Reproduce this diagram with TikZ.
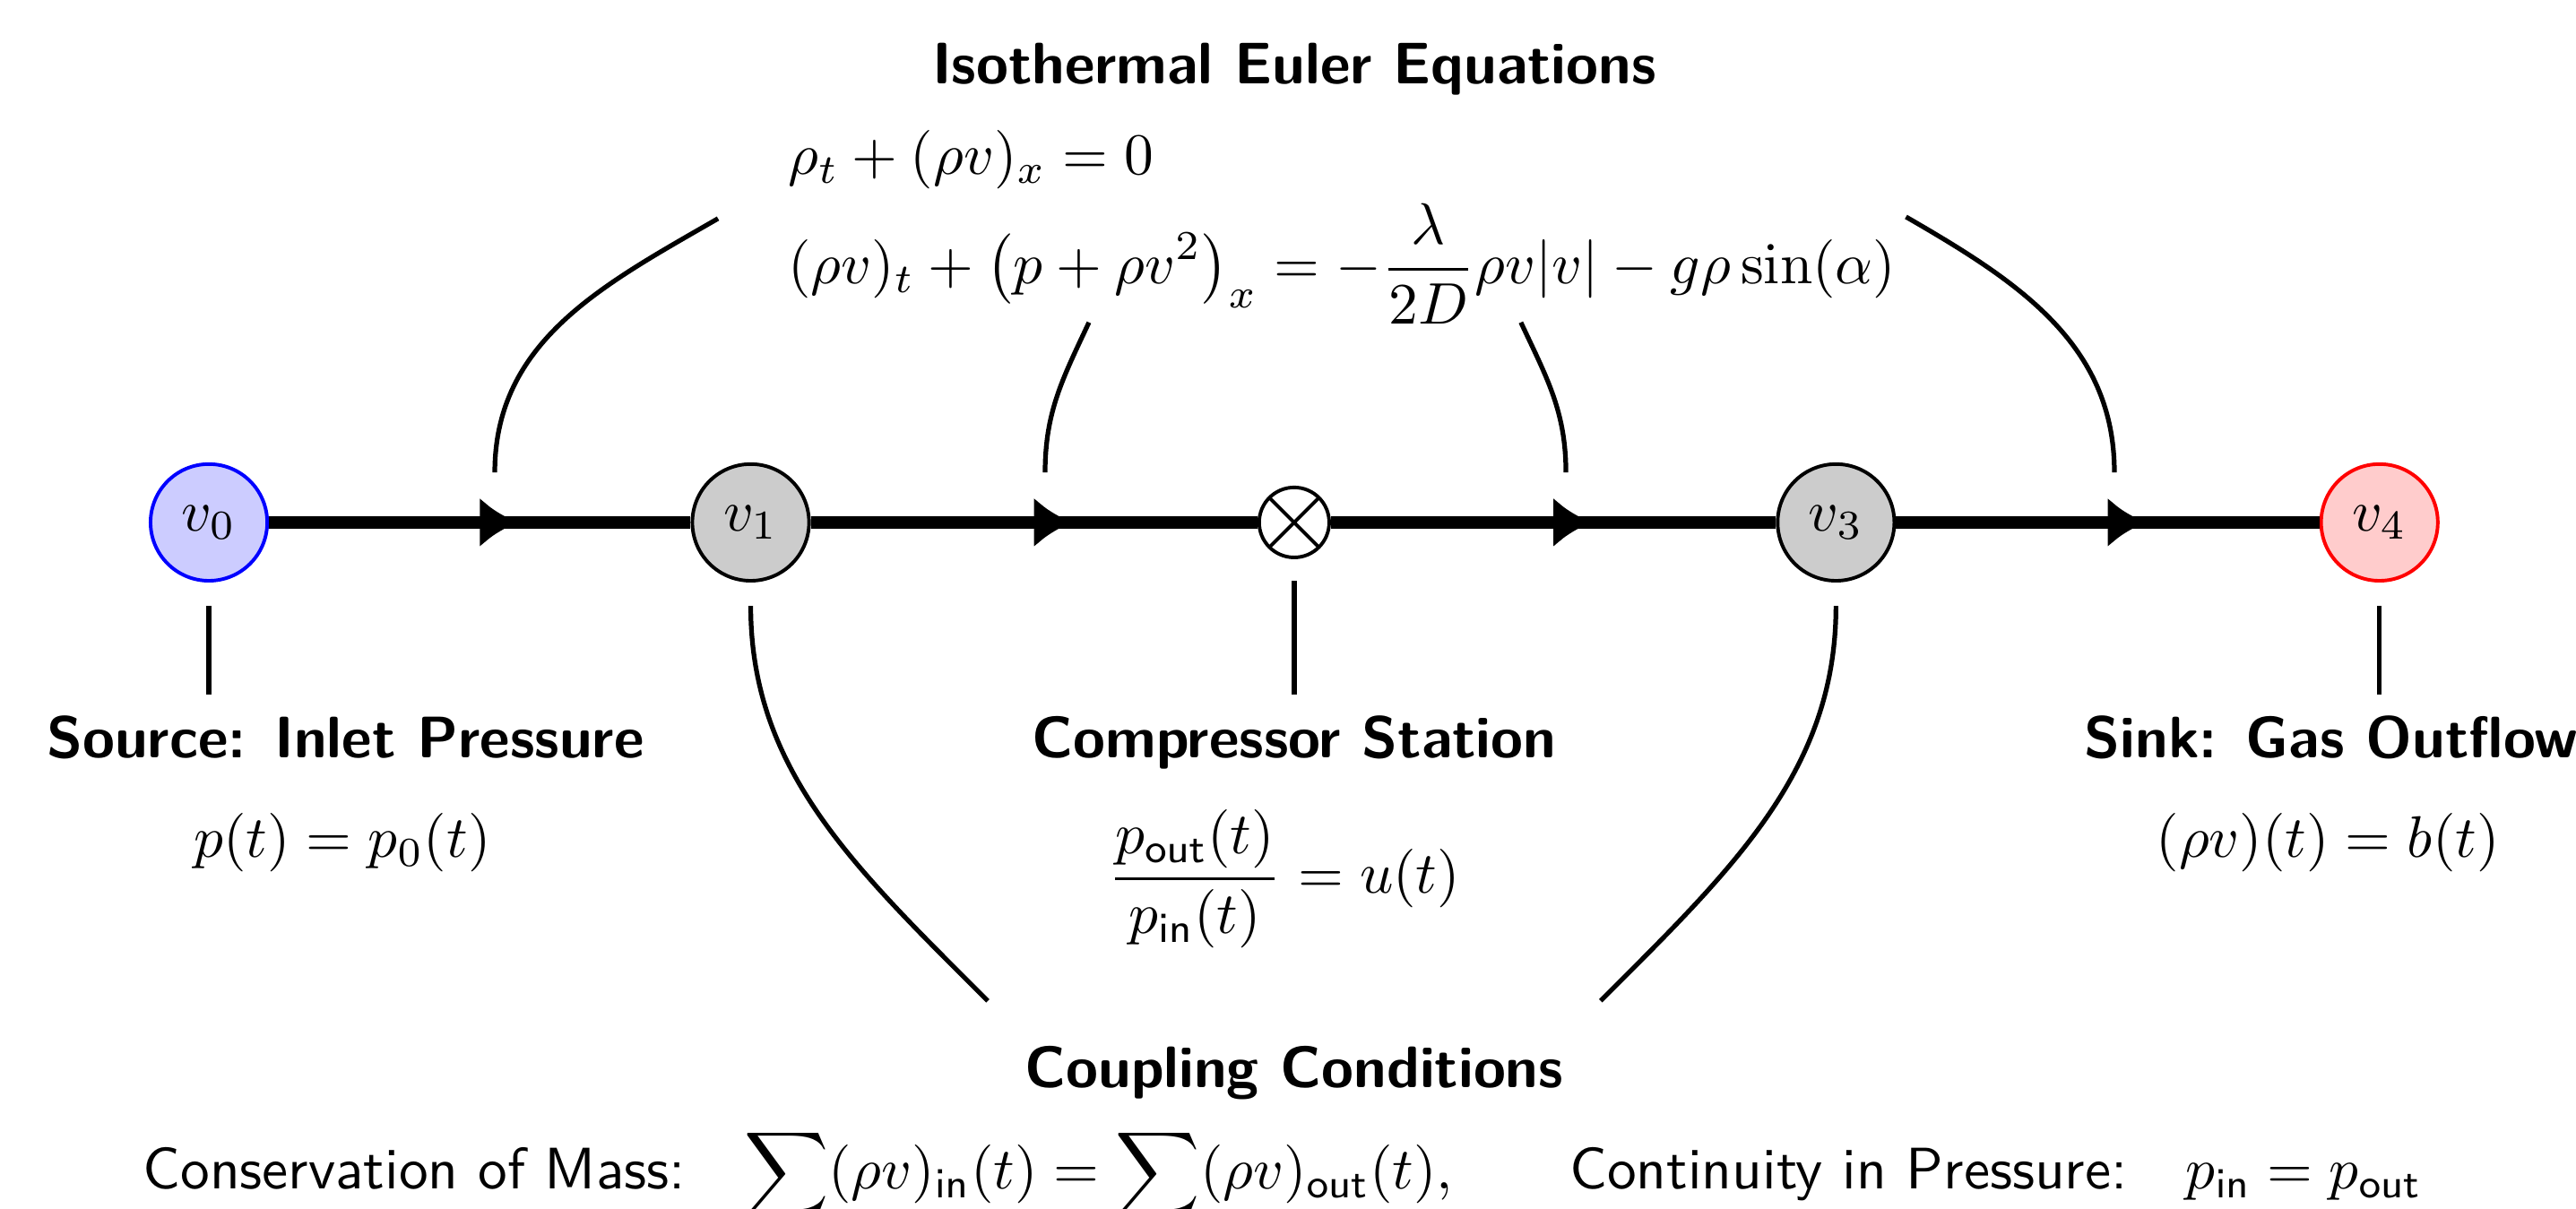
\documentclass[tikz,border=0pt]{standalone}
\usepackage{amsmath,amssymb}
\usepackage{xcolor}
\usepackage{tikz}
\usetikzlibrary{arrows.meta, positioning, calc, decorations.markings}

\begin{document}
\begin{tikzpicture}[x=1cm, y=1cm]
\tikzset{
  vtx/.style={circle,draw=black,semithick,fill=black!20,minimum size=0.7cm,inner sep=0pt},
  srcv/.style={vtx,draw=blue,fill=blue!20},
  snkv/.style={vtx,draw=red,fill=red!20},
  comp/.style={circle,draw=black,semithick,fill=white,minimum size=0.42cm,inner sep=0pt,
    path picture={\draw[semithick] (path picture bounding box.north west)--(path picture bounding box.south east)
      (path picture bounding box.north east)--(path picture bounding box.south west);}},
  pipe/.style={line width=2.2pt,postaction={decorate},
    decoration={markings,mark=at position 0.5 with {\arrow[xshift=2.3mm]{Latex[length=2.3mm,width=3mm]}}}},
  lnk/.style={thick},
  head/.style={font=\sffamily\bfseries,anchor=base},
  eqn/.style={anchor=base}
}
\useasboundingbox (-1.253,-4.118) rectangle (14.199,3.134);
% ---- network
\node[srcv] (v0) at (0,0)     {$v_0$};
\node[vtx]  (v1) at (3.25,0)  {$v_1$};
\node[comp] (cs) at (6.51,0)  {};
\node[vtx]  (v3) at (9.76,0)  {$v_3$};
\node[snkv] (v4) at (13.02,0) {$v_4$};
\draw[pipe] (v0)--(v1); \draw[pipe] (v1)--(cs);
\draw[pipe] (cs)--(v3); \draw[pipe] (v3)--(v4);
% ---- boundary and compressor
\node[head] (srcl) at (0.82,-1.41)  {Source: Inlet Pressure};
\node[eqn]  (srcf) at (0.80,-2.01)  {$p(t) = p_0(t)$};
\node[head] (csl)  at (6.51,-1.41)  {Compressor Station};
\node[eqn]  (csf)  at (6.45,-2.226) {$\dfrac{p_{\mathsf{out}}(t)}{p_{\mathsf{in}}(t)} = u(t)$};
\node[head] (snkl) at (12.73,-1.41) {Sink: Gas Outflow};
\node[eqn]  (snkf) at (12.71,-2.01) {$(\rho v)(t) = b(t)$};
\draw[lnk,shorten <=0.14cm] (v0)--(v0 |- srcl.north);
\draw[lnk,shorten <=0.13cm] (cs)--(cs |- csl.north);
\draw[lnk,shorten <=0.14cm] (v4)--(v4 |- snkl.north);
% ---- pipe model
\node[head] (ieq) at (6.51,2.634) {Isothermal Euler Equations};
\node[eqn,anchor=base west] (mass) at (3.35,2.086) {$\rho_t + (\rho v)_x = 0$};
\node[eqn,anchor=base west] (mom)  at (3.35,1.43)
  {$\displaystyle (\rho v)_t + \bigl(p + \rho v^2\bigr)_x = -\frac{\lambda}{2D}\rho v|v| - g\rho\sin(\alpha)$};
\coordinate (t1) at (1.715,0.30); \coordinate (e1) at (3.054,1.823);
\coordinate (t2) at (5.016,0.30); \coordinate (e2) at (5.279,1.2);
\coordinate (t3) at (8.14,0.30);  \coordinate (e3) at (7.87,1.2);
\coordinate (t4) at (11.43,0.30); \coordinate (e4) at (10.18,1.833);
\draw[lnk] (t1) to[out=90,in=210] (e1);
\draw[lnk] (t2) to[out=90,in=245] (e2);
\draw[lnk] (t3) to[out=90,in=-65] (e3);
\draw[lnk] (t4) to[out=90,in=-30] (e4);
% ---- coupling
\node[head] (cpl) at (6.51,-3.39) {Coupling Conditions};
\node[anchor=base,font=\sffamily] (cc) at (6.44,-4.0)
  {Conservation of Mass:\quad$\displaystyle\sum (\rho v)_{\mathsf{in}}(t) = \sum (\rho v)_{\mathsf{out}}(t),$\qquad Continuity in Pressure:\quad$p_{\mathsf{in}} = p_{\mathsf{out}}$};
\coordinate (b1) at (4.672,-2.87); \coordinate (b3) at (8.348,-2.87);
\draw[lnk,shorten <=0.14cm] (v1) to[out=-90,in=135] (b1);
\draw[lnk,shorten <=0.14cm] (v3) to[out=-90,in=45] (b3);
\end{tikzpicture}
\end{document}
